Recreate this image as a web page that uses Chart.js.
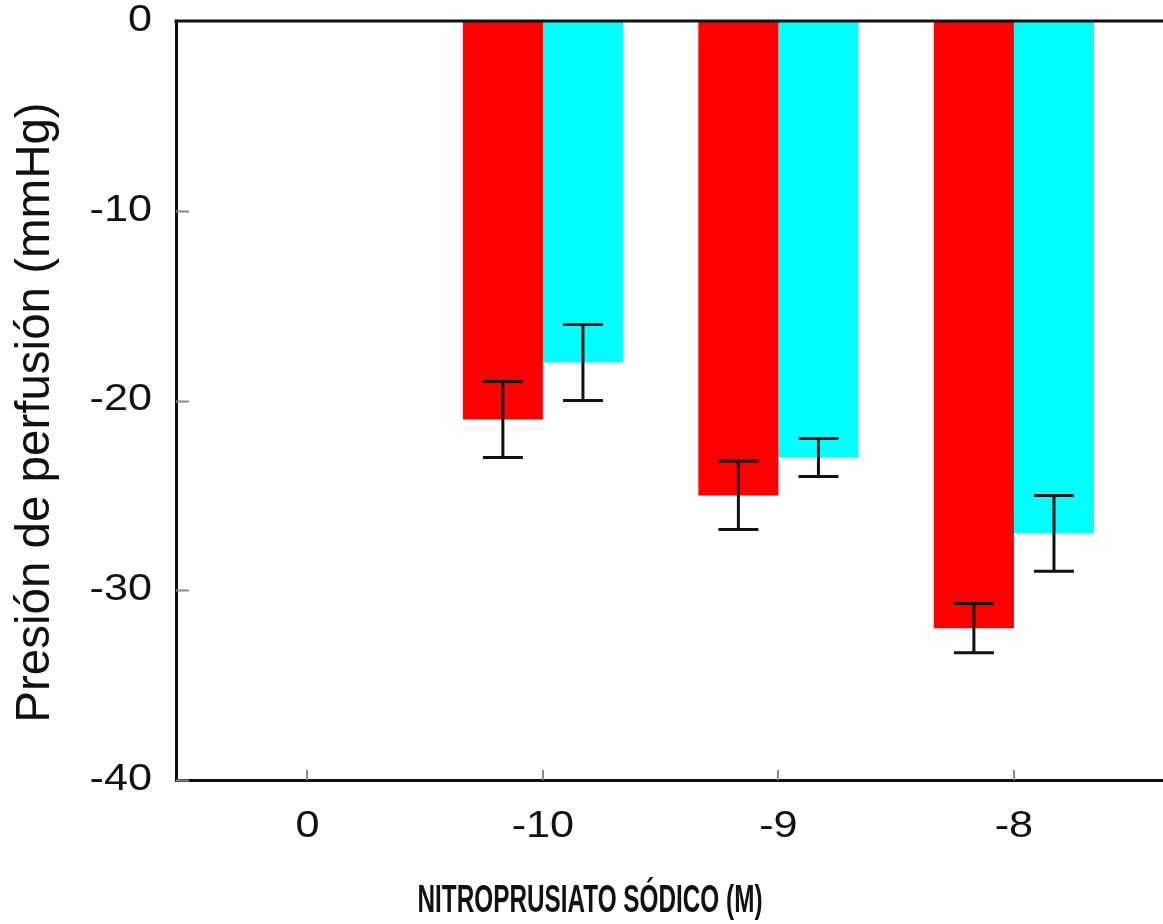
<!DOCTYPE html>
<html>
<head>
<meta charset="utf-8">
<script src="https://cdn.jsdelivr.net/npm/chart.js@4/dist/chart.umd.min.js"></script>
<style>
  html, body { margin: 0; padding: 0; background: #fff; overflow: hidden; }
  canvas { display: block; }
</style>
</head>
<body>
<canvas id="c" width="1163" height="924"></canvas>
<script>
// ---- data ----
const categories = ['0', '-10', '-9', '-8'];
const redValues  = [null, -21, -25, -32];
const redErrors  = [null, 2, 1.8, 1.3];
const cyanValues = [null, -18, -23, -27];
const cyanErrors = [null, 2, 1, 2];
const yTickValues = [0, -10, -20, -30, -40];

const yTitle = 'Presión de perfusión (mmHg)';
const xTitle = 'NITROPRUSIATO SÓDICO (M)';

const FONT = "'Liberation Sans', Arial, Helvetica, sans-serif";
const TEXT = '#111';

const toPoints = (vals) => categories.map((c, i) => ({ x: i, y: vals[i] }));

const extras = {
  id: 'extras',
  afterDatasetsDraw(chart) {
    const ctx = chart.ctx;
    const { left, right, bottom } = chart.chartArea;
    const xs = chart.scales.x, ys = chart.scales.y;
    ctx.save();
    // inward tick marks
    ctx.strokeStyle = '#8a8a8a';
    ctx.lineWidth = 2;
    yTickValues.forEach(v => {
      if (v === 0) return;
      const py = Math.round(ys.getPixelForValue(v)) + 0.5;
      ctx.beginPath(); ctx.moveTo(left, py); ctx.lineTo(left + 13, py); ctx.stroke();
    });
    categories.forEach((c, i) => {
      const px = Math.round(xs.getPixelForValue(i));
      ctx.beginPath(); ctx.moveTo(px, bottom); ctx.lineTo(px, bottom - 10); ctx.stroke();
    });
    // error bars
    const sets = [[redValues, redErrors], [cyanValues, cyanErrors]];
    ctx.strokeStyle = '#111';
    ctx.lineWidth = 3;
    sets.forEach(([vals, errs], d) => {
      const meta = chart.getDatasetMeta(d);
      vals.forEach((v, i) => {
        if (v === null || !errs[i]) return;
        const bx = meta.data[i].x;
        const y1 = ys.getPixelForValue(v + errs[i]);
        const y2 = ys.getPixelForValue(v - errs[i]);
        ctx.beginPath();
        ctx.moveTo(bx, y1); ctx.lineTo(bx, y2);
        ctx.moveTo(bx - 20, y1); ctx.lineTo(bx + 20, y1);
        ctx.moveTo(bx - 20, y2); ctx.lineTo(bx + 20, y2);
        ctx.stroke();
      });
    });
    // zero line at top
    ctx.strokeStyle = '#111';
    ctx.lineWidth = 3;
    const zy = ys.getPixelForValue(0);
    ctx.beginPath(); ctx.moveTo(left - 1.5, zy); ctx.lineTo(right, zy); ctx.stroke();
    ctx.restore();
  }
};

const chart = new Chart(document.getElementById('c'), {
  type: 'bar',
  data: {
    datasets: [
      { label: 'Serie 1', data: toPoints(redValues), backgroundColor: '#ff0000', borderWidth: 0 },
      { label: 'Serie 2', data: toPoints(cyanValues), backgroundColor: '#00ffff', borderWidth: 0 }
    ]
  },
  options: {
    responsive: false,
    animation: false,
    devicePixelRatio: 1,
    categoryPercentage: 0.68,
    barPercentage: 1.0,
    layout: { padding: { top: 21, left: 17, right: 0, bottom: 0 } },
    plugins: {
      legend: { display: false },
      tooltip: { enabled: false },
      title: {
        display: true,
        position: 'bottom',
        text: xTitle,
        color: TEXT,
        font: { family: FONT, size: 38, weight: 'bold', lineHeight: 1.0 },
        padding: { top: 0, bottom: 3 }
      }
    },
    scales: {
      x: {
        type: 'linear',
        offset: false,
        min: -0.558,
        max: 3.633,
        grid: { display: false, drawTicks: false },
        border: { display: true, color: '#111', width: 3 },
        afterBuildTicks: (s) => { s.ticks = categories.map((c, i) => ({ value: i })); },
        afterFit: (s) => { s.height = 103; },
        ticks: {
          color: TEXT,
          font: { family: FONT, size: 36 },
          padding: 25,
          maxRotation: 0,
          autoSkip: false,
          callback: (v) => categories[v]
        }
      },
      y: {
        min: -40,
        max: 0,
        grid: { display: false, drawTicks: false },
        border: { display: true, color: '#111', width: 3 },
        afterBuildTicks: (s) => { s.ticks = yTickValues.map(v => ({ value: v })); },
        afterFit: (s) => { s.width = 159; s.paddingTop = 0; s.paddingBottom = 0; },
        ticks: {
          color: TEXT,
          font: { family: FONT, size: 36 },
          padding: 24
        },
        title: {
          display: true,
          text: yTitle,
          color: TEXT,
          font: { family: FONT, size: 47.5, lineHeight: 0.8 },
          padding: 0
        }
      }
    }
  },
  plugins: [extras]
});

// condense the x-axis title horizontally around its centre (as in the original figure)
const tb = chart.titleBlock;
if (tb) {
  const origDraw = tb.draw.bind(tb);
  tb.draw = function () {
    const ctx = this.ctx;
    const cx = (this.left + this.right) / 2;
    ctx.save();
    ctx.translate(cx, 0); ctx.scale(0.64, 1); ctx.translate(-cx, 0);
    origDraw();
    ctx.restore();
  };
}
// widen tick label glyphs slightly around their anchor (the original figure is stretched)
['x', 'y'].forEach(id => {
  const sc = chart.scales[id];
  const origLabels = sc.drawLabels.bind(sc);
  sc.drawLabels = function (area) {
    const ctx = this.ctx;
    const ft = ctx.fillText;
    ctx.fillText = function (t, x, y, mw) {
      this.save();
      this.translate(x, y);
      this.scale(1.2, 1);
      ft.call(this, t, 0, 0);
      this.restore();
    };
    try { origLabels(area); } finally { ctx.fillText = ft; }
  };
});
// nudge the y-axis title down slightly along the axis
const ysc = chart.scales.y;
const origTitle = ysc.drawTitle.bind(ysc);
ysc.drawTitle = function () {
  const ctx = this.ctx;
  ctx.save();
  ctx.translate(0, 12);
  origTitle();
  ctx.restore();
};
chart.draw();
</script>
</body>
</html>
